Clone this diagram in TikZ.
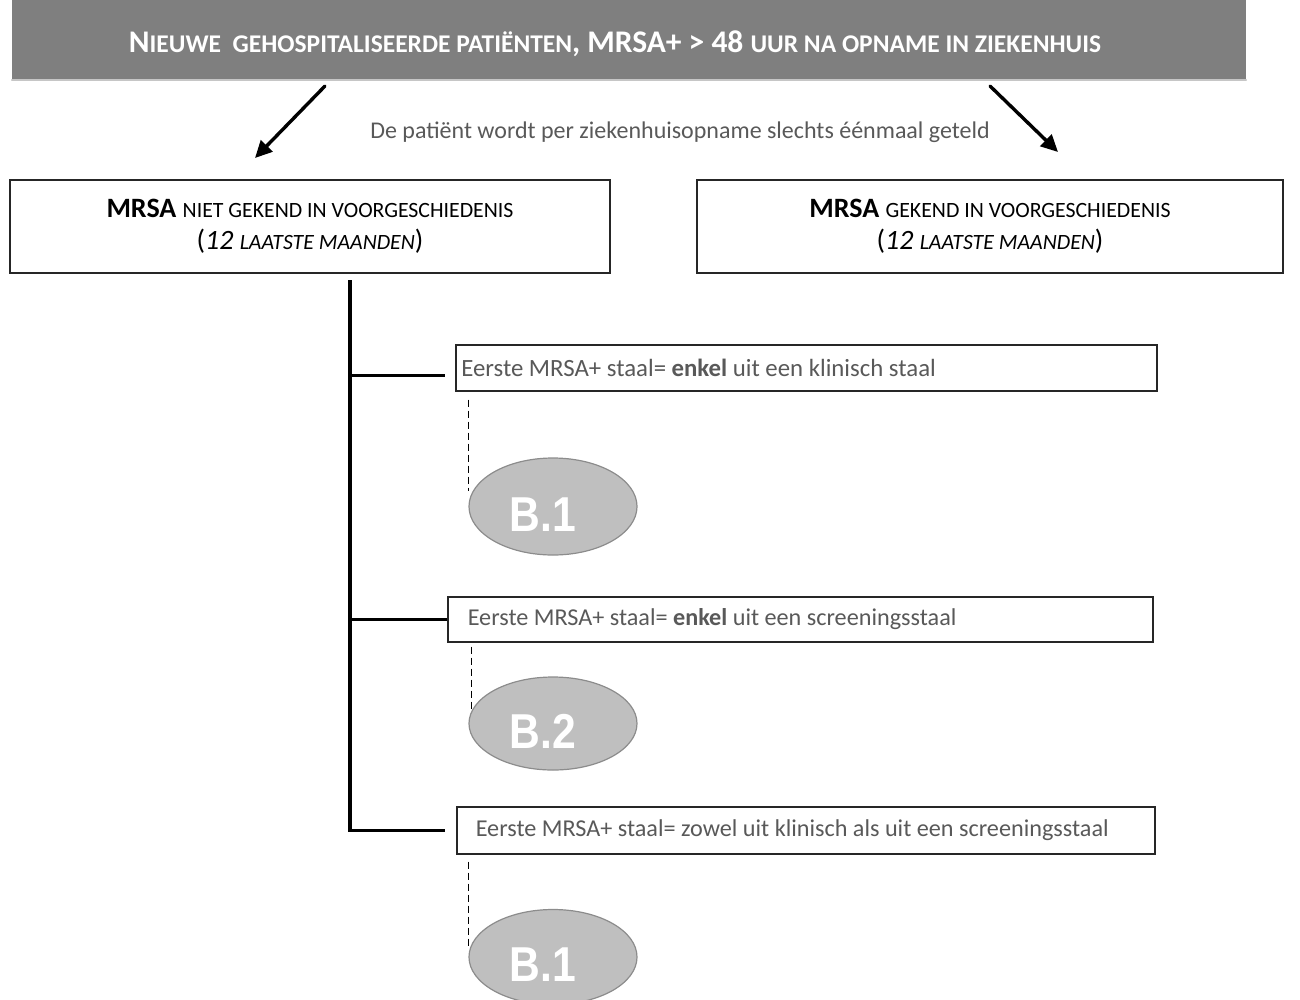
\documentclass[tikz,border=0pt]{standalone}
\usepackage{fontspec}
\setmainfont{Carlito}
\newfontfamily\arialfont{Liberation Sans}
\usetikzlibrary{arrows.meta,shapes.geometric}
\definecolor{bannergrijs}{RGB}{127,127,127}
\definecolor{tekstgrijs}{RGB}{89,89,89}
\definecolor{bolvul}{RGB}{191,191,191}
\definecolor{bolrand}{RGB}{140,140,140}
\newcommand{\kapB}[1]{{\fontsize{25.5}{30}\selectfont #1}}
\newcommand{\kapH}[1]{{\fontsize{21.8}{25}\selectfont #1}}
\newcommand{\bolnaam}[1]{\kern-20pt\raisebox{-8pt}[\height][0pt]{\scalebox{0.87}[1]{#1}}}

\begin{document}
\begin{tikzpicture}[x=1pt,y=-1pt,>={Triangle[length=17pt,width=16pt]},line cap=round,
  kader/.style={draw=black!85,line width=1.7pt,fill=white,inner sep=0pt},
  kop/.style={kader,align=center,font=\fontsize{28}{32}\selectfont},
  staalbox/.style={kader,anchor=north west,text=tekstgrijs,font=\fontsize{24.2}{28}\selectfont},
  bol/.style={ellipse,draw=bolrand,line width=1.2pt,fill=bolvul,inner sep=0pt,minimum width=168pt,
    text=white,font=\arialfont\bfseries\fontsize{49}{52}\selectfont},
  tak/.style={line width=3.2pt,line cap=butt},
  stippel/.style={dash pattern=on 7pt off 4pt,line width=1.8pt,line cap=butt}]
\useasboundingbox (0,0) rectangle (1300,999);
\node[fill=bannergrijs,minimum width=1234pt,minimum height=80pt,inner sep=0pt,text=white,
  font=\bfseries\fontsize{31.5}{36}\selectfont] (banner) at (629,40)
  {\kern-28pt\raisebox{-4pt}[\height][\depth]{N\kapB{IEUWE \ GEHOSPITALISEERDE PATIËNTEN}, MRSA+ > 48 \kapB{UUR NA OPNAME IN ZIEKENHUIS}}};
\draw[gray!45,line width=1.5pt] (banner.south west) -- (banner.south east);
\node[text=tekstgrijs,font=\fontsize{24}{28}\selectfont] (regel) at (680,132)
  {De patiënt wordt per ziekenhuisopname slechts éénmaal geteld};
\node[kop,minimum width=600pt,minimum height=93pt] (nietgekend) at (310,226.5)
  {\textbf{MRSA} \kapH{NIET GEKEND IN VOORGESCHIEDENIS}\\(\textit{12 \kapH{LAATSTE MAANDEN}})};
\node[kop,minimum width=586pt,minimum height=93pt] (gekend) at (990,226.5)
  {\textbf{MRSA} \kapH{GEKEND IN VOORGESCHIEDENIS}\\(\textit{12 \kapH{LAATSTE MAANDEN}})};
\coordinate (pijl1a) at (325,86);
\coordinate (pijl1b) at (255,158);
\coordinate (pijl2a) at (990,86);
\coordinate (pijl2b) at (1058,152);
\draw[->,line width=3.4pt] (pijl1a) -- (pijl1b);
\draw[->,line width=3.4pt] (pijl2a) -- (pijl2b);
\node[staalbox,minimum width=701pt,minimum height=46pt,inner xsep=5.5pt,font=\fontsize{24.8}{28}\selectfont] (staal1) at (455,344)
  {\makebox[690pt][l]{Eerste MRSA+ staal= \textbf{enkel} uit een klinisch staal}};
\node[staalbox,minimum width=705pt,minimum height=45pt,inner xsep=20pt] (staal2) at (447,596)
  {\makebox[665pt][l]{Eerste MRSA+ staal= \textbf{enkel} uit een screeningsstaal}};
\node[staalbox,minimum width=698pt,minimum height=47pt,inner xsep=19pt] (staal3) at (456,806)
  {\makebox[660pt][l]{Eerste MRSA+ staal= zowel uit klinisch als uit een screeningsstaal}};
\coordinate (stam) at (350,280);
\draw[tak] (stam) -- ([yshift=-1.6pt]stam |- staal3.west);
\draw[tak,shorten >=10pt] ([yshift=-8pt]stam |- staal1.west) -- ([yshift=-8pt]staal1.west);
\draw[tak] (stam |- staal2.west) -- (staal2.west);
\draw[tak,shorten >=11pt] (stam |- staal3.west) -- (staal3.west);
\node[bol,minimum height=97pt] (bol1) at (553,506.5) {\bolnaam{B.1}};
\node[bol,minimum height=93pt] (bol2) at (553,723.5) {\bolnaam{B.2}};
\node[bol,minimum height=95pt] (bol3) at (553,957) {\bolnaam{B.1}};
\draw[stippel,shorten <=8pt,shorten >=16pt] (bol1.west |- staal1.south) -- (bol1.west);
\draw[stippel,shorten <=4pt,shorten >=14pt] ([xshift=3pt]bol2.west |- staal2.south) -- ([xshift=3pt]bol2.west);
\draw[stippel,shorten <=7pt,shorten >=10pt] (bol3.west |- staal3.south) -- (bol3.west);
\end{tikzpicture}
\end{document}
